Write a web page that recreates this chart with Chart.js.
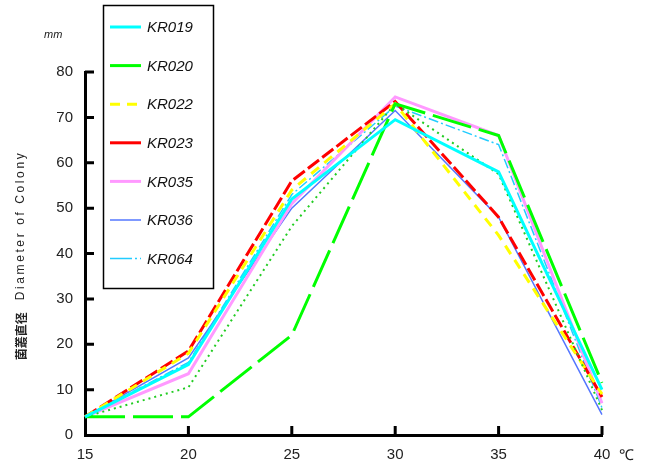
<!DOCTYPE html>
<html>
<head>
<meta charset="utf-8">
<script src="https://cdn.jsdelivr.net/npm/chart.js@4/dist/chart.umd.min.js"></script>
<style>
html,body{margin:0;padding:0;background:#fff;}
#wrap{width:661px;height:471px;position:relative;}
</style>
</head>
<body>
<div id="wrap"><canvas id="c" width="661" height="471"></canvas></div>
<script>
// ---- data ----
const categories = ['15', '20', '25', '30', '35', '40'];
const seriesNames = ['KR019', 'KR020', 'KR022', 'KR023', 'KR035', 'KR036', 'KR064'];
const kr019 = [4, 15.5, 52, 69.5, 58, 10];
const kr020 = [4, 4, 22, 73, 66, 11.5];
const kr022 = [4, 18, 54, 73, 44, 9];
const kr023 = [4, 18.5, 56, 73.5, 48, 8.4];
const kr035 = [4, 13.5, 51, 74.5, 66, 7];
const kr036 = [4, 17, 50, 71.5, 48, 4.5];
const kr064 = [4, 16, 53, 72.5, 64, 6];
const extraSeries = [4, 10.5, 46, 73, 57.5, 5.5];
const yMin = 0, yMax = 80, yStep = 10;
const titleCJK = '菌叢直径';
const titleEN = 'Diameter of Colony';

const styles = [
  {color: '#00FFFF', width: 3, dash: [], legendDash: []},
  {color: '#00FF00', width: 3, dash: [40, 8], legendDash: []},
  {color: '#FFFF00', width: 3, dash: [10, 7], legendDash: [10, 7]},
  {color: '#FF0000', width: 3, dash: [14, 4], legendDash: []},
  {color: '#FF99FF', width: 3, dash: [], legendDash: []},
  {color: '#5577FF', width: 1.5, dash: [], legendDash: []},
  {color: '#22CCFF', width: 1.5, dash: [10, 3, 2, 3], legendDash: [22, 3, 2, 3]}
];
const values = [kr019, kr020, kr022, kr023, kr035, kr036, kr064];

const datasets = values.map((v, i) => ({
  label: seriesNames[i],
  data: v,
  borderColor: styles[i].color,
  backgroundColor: styles[i].color,
  borderWidth: styles[i].width,
  borderDash: styles[i].dash,
  pointRadius: 0,
  tension: 0,
  fill: false,
  inLegend: true,
  legendDash: styles[i].legendDash
}));
// extra curve drawn in the chart but absent from the legend
datasets.splice(2, 0, {
  label: '',
  data: extraSeries,
  borderColor: '#22CC22',
  borderWidth: 2,
  borderDash: [2, 4],
  pointRadius: 0,
  tension: 0,
  fill: false,
  inLegend: false
});

const FONT = '"Liberation Sans", Arial, sans-serif';

const decor = {
  id: 'decor',
  afterDraw(chart) {
    const ctx = chart.ctx;
    const xs = chart.scales.x, ys = chart.scales.y;
    const ca = chart.chartArea;
    ctx.save();
    // inward tick marks
    ctx.strokeStyle = '#000';
    ctx.lineWidth = 3;
    ctx.beginPath();
    xs.ticks.forEach((t, i) => {
      if (i === 0) return;
      const x = xs.getPixelForTick(i);
      ctx.moveTo(x, ca.bottom);
      ctx.lineTo(x, ca.bottom - 9);
    });
    ys.ticks.forEach((t, i) => {
      if (t.value === yMin) return;
      const y = ys.getPixelForValue(t.value);
      ctx.moveTo(ca.left, y);
      ctx.lineTo(ca.left + 9, y);
    });
    ctx.stroke();

    // unit labels
    ctx.fillStyle = '#222';
    ctx.font = 'italic 11px ' + FONT;
    ctx.textAlign = 'left';
    ctx.textBaseline = 'middle';
    ctx.fillText('mm', ca.left - 41, ca.top - 37);
    ctx.font = '15px ' + FONT;
    ctx.fillText('℃', ca.right + 17, ca.bottom + 21);

    // rotated y-axis title
    ctx.save();
    const cy = (ca.top + ca.bottom) / 2 + 2;
    ctx.translate(21, cy);
    ctx.rotate(-Math.PI / 2);
    ctx.textBaseline = 'middle';
    ctx.fillStyle = '#222';
    ctx.font = 'bold 12px "Noto Sans CJK JP", sans-serif';
    if ('letterSpacing' in ctx) ctx.letterSpacing = '0px';
    const wC = ctx.measureText(titleCJK).width;
    ctx.font = '12px ' + FONT;
    if ('letterSpacing' in ctx) ctx.letterSpacing = '2.6px';
    const wE = ctx.measureText(titleEN).width;
    const gap = 12;
    const total = wC + gap + wE;
    let x0 = -total / 2;
    ctx.textAlign = 'left';
    ctx.font = 'bold 12px "Noto Sans CJK JP", sans-serif';
    if ('letterSpacing' in ctx) ctx.letterSpacing = '0px';
    ctx.fillText(titleCJK, x0, 0);
    ctx.font = '12px ' + FONT;
    if ('letterSpacing' in ctx) ctx.letterSpacing = '2.6px';
    ctx.fillText(titleEN, x0 + wC + gap, 0);
    if ('letterSpacing' in ctx) ctx.letterSpacing = '0px';
    ctx.restore();

    // legend box
    const items = chart.data.datasets.filter(d => d.inLegend);
    const bx = ca.left + 18, by = 5, bw = 110, bh = 283;
    ctx.fillStyle = '#fff';
    ctx.fillRect(bx, by, bw, bh);
    ctx.strokeStyle = '#000';
    ctx.lineWidth = 1.5;
    ctx.strokeRect(bx + 0.5, by + 0.5, bw, bh);
    const rowH = 38.6;
    items.forEach((d, i) => {
      const y = by + 22 + i * rowH;
      ctx.beginPath();
      ctx.strokeStyle = d.borderColor;
      ctx.lineWidth = d.borderWidth;
      ctx.setLineDash(d.legendDash);
      ctx.moveTo(bx + 7, y);
      ctx.lineTo(bx + 38, y);
      ctx.stroke();
      ctx.setLineDash([]);
      ctx.fillStyle = '#111';
      ctx.font = 'italic 15px ' + FONT;
      ctx.textAlign = 'left';
      ctx.textBaseline = 'middle';
      ctx.fillText(d.label, bx + 44, y + 1);
    });
    ctx.restore();
  }
};

new Chart(document.getElementById('c'), {
  type: 'line',
  data: {labels: categories, datasets},
  options: {
    responsive: false,
    animation: false,
    events: [],
    layout: {padding: {left: 0, top: 72, right: 59, bottom: 0}},
    plugins: {legend: {display: false}, tooltip: {enabled: false}},
    scales: {
      x: {
        type: 'category',
        offset: false,
        grid: {display: true, drawOnChartArea: false, drawTicks: false},
        border: {display: true, color: '#000', width: 3},
        ticks: {color: '#222', font: {family: FONT, size: 15}, padding: 11, maxRotation: 0},
        afterFit(s) { s.height = 36; }
      },
      y: {
        min: yMin, max: yMax,
        grid: {display: true, drawOnChartArea: false, drawTicks: false},
        border: {display: true, color: '#000', width: 3},
        ticks: {stepSize: yStep, color: '#222', font: {family: FONT, size: 15}, padding: 12},
        afterFit(s) { s.width = 85; }
      }
    }
  },
  plugins: [decor]
});
</script>
</body>
</html>
